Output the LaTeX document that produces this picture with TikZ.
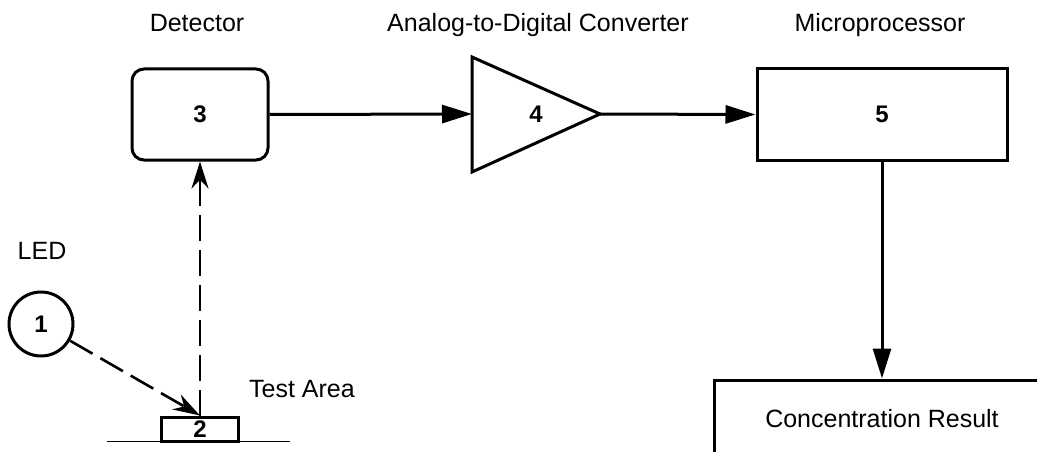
\documentclass[tikz,border=0pt]{standalone}
\usepackage{fontspec}
\setmainfont{Liberation Sans}
\usetikzlibrary{arrows.meta}

\begin{document}
\begin{tikzpicture}[x=1pt,y=-1pt,line width=3pt,
    every node/.style={font=\fontsize{25}{30}\selectfont},
    caption/.style={anchor=base},
    num/.style={font=\fontsize{24}{28}\selectfont\bfseries},
    block/.style={draw,inner sep=0pt,num},
    signal/.style={-{Triangle[length=30pt,width=18pt]}},
    beam/.style={line width=2.6pt,dash pattern=on 26pt off 9pt,-{Stealth[length=27pt,width=17pt]}}]

        \useasboundingbox (0,0) rectangle (1037,452);
        \clip (0,0) rectangle (1037,452);

        \begin{scope}
          \node[caption] (detlabel)  at (197,32)  {Detector};
          \node[caption] (adclabel)  at (538,32)  {Analog-to-Digital Converter};
          \node[caption] (mplabel)   at (880,32)  {Microprocessor};
          \node[caption] (ledlabel)  at (42,259)  {LED};
          \node[caption] (testlabel) at (302,397) {Test Area};
        \end{scope}

        \begin{scope}
          \node[block,circle,minimum size=64pt] (led) at (41,324) {1};
          \node[block,minimum width=77pt,minimum height=24pt] (test) at (200,429) {2};
          \node[block,rounded corners=12pt,minimum width=136pt,minimum height=91pt] (det) at (200,114.5) {3};
          \node[num] (adc) at (536,114) {4};
          \node[block,minimum width=250pt,minimum height=91pt] (mp) at (882,114.5) {5};
          \node[draw,inner sep=0pt,minimum width=336pt,minimum height=76pt] (res) at (882,418) {};
          \node[caption] (reslabel) at (882,427) {Concentration Result};
        \end{scope}

        % converter
        \coordinate (adcin)  at (472,114);
        \coordinate (adcout) at (600,114);
        \draw (472,57) -- (adcout) -- (472,172) -- cycle;

        % ground under the test area
        \draw[line width=1pt] (107,441) -- (290,441);

        \path[beam] (led) edge (test.north);
        \path[beam] (test.north) edge (det.south);
        \path[signal] (det.east) edge (adcin);
        \path[signal] (adcout) edge (mp.west);
        \path[signal] (mp.south) edge (res.north);

\end{tikzpicture}
\end{document}
